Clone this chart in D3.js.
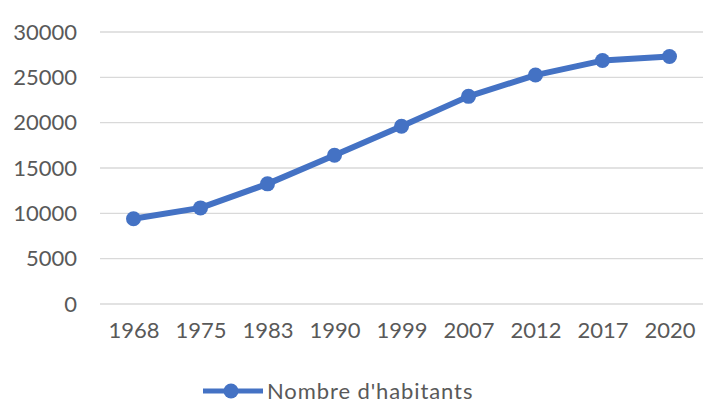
<!DOCTYPE html>
<html>
<head>
<meta charset="utf-8">
<script src="https://cdn.jsdelivr.net/npm/d3@7"></script>
<style>
  body { margin: 0; background: #fff; }
  svg text { font-family: Lato, "Open Sans", sans-serif; fill: #595959; }
</style>
</head>
<body>
<div id="chart"></div>
<script>
// data
var years = ["1968", "1975", "1983", "1990", "1999", "2007", "2012", "2017", "2020"];
var habitants = [9400, 10600, 13250, 16400, 19600, 22900, 25250, 26850, 27300];
var yTicks = [0, 5000, 10000, 15000, 20000, 25000, 30000];
var seriesName = "Nombre d'habitants";

var svgWidth = 718;
var svgHeight = 405;

var margin = { top: 32, right: 15, bottom: 101, left: 100 };
var chartWidth = svgWidth - margin.left - margin.right;
var chartHeight = svgHeight - margin.top - margin.bottom;

var svg = d3.select("#chart")
  .append("svg")
  .attr("width", svgWidth)
  .attr("height", svgHeight);

var chartGroup = svg.append("g")
  .attr("transform", `translate(${margin.left}, ${margin.top})`);

var xScale = d3.scalePoint()
  .domain(years)
  .range([0, chartWidth])
  .padding(0.5);

var yScale = d3.scaleLinear()
  .domain([0, 30000])
  .range([chartHeight, 0]);

// gridlines
chartGroup.selectAll(".grid")
  .data(yTicks)
  .enter()
  .append("line")
  .attr("x1", 0)
  .attr("x2", chartWidth)
  .attr("y1", d => yScale(d))
  .attr("y2", d => yScale(d))
  .attr("stroke", "#d9d9d9")
  .attr("stroke-width", 1.3);

// axes, lines hidden
var leftAxis = d3.axisLeft(yScale).tickValues(yTicks).tickFormat(d3.format("d")).tickSize(0).tickPadding(23);
var bottomAxis = d3.axisBottom(xScale).tickSize(0).tickPadding(18);

var yAxisG = chartGroup.append("g").call(leftAxis);
yAxisG.select(".domain").remove();
yAxisG.selectAll("text").style("font-size", "22px").attr("fill", null);

var xAxisG = chartGroup.append("g")
  .attr("transform", `translate(0, ${chartHeight})`)
  .call(bottomAxis);
xAxisG.select(".domain").remove();
xAxisG.selectAll("text").style("font-size", "22px").attr("fill", null);

// the line
var line = d3.line()
  .x((d, i) => xScale(years[i]))
  .y(d => yScale(d));

chartGroup.append("path")
  .datum(habitants)
  .attr("fill", "none")
  .attr("stroke", "#4472c4")
  .attr("stroke-width", 6)
  .attr("stroke-linejoin", "round")
  .attr("stroke-linecap", "round")
  .attr("d", line);

chartGroup.selectAll(".dot")
  .data(habitants)
  .enter()
  .append("circle")
  .attr("cx", (d, i) => xScale(years[i]))
  .attr("cy", d => yScale(d))
  .attr("r", 7.5)
  .attr("fill", "#4472c4");

// legend
var legend = svg.append("g")
  .attr("transform", "translate(203, 391)");

legend.append("line")
  .attr("x1", 0)
  .attr("x2", 60)
  .attr("stroke", "#4472c4")
  .attr("stroke-width", 5);

legend.append("circle")
  .attr("cx", 28)
  .attr("r", 7.5)
  .attr("fill", "#4472c4");

legend.append("text")
  .attr("x", 64)
  .attr("dy", "0.35em")
  .style("font-size", "22px")
  .style("letter-spacing", "0.9px")
  .text(seriesName);
</script>
</body>
</html>
